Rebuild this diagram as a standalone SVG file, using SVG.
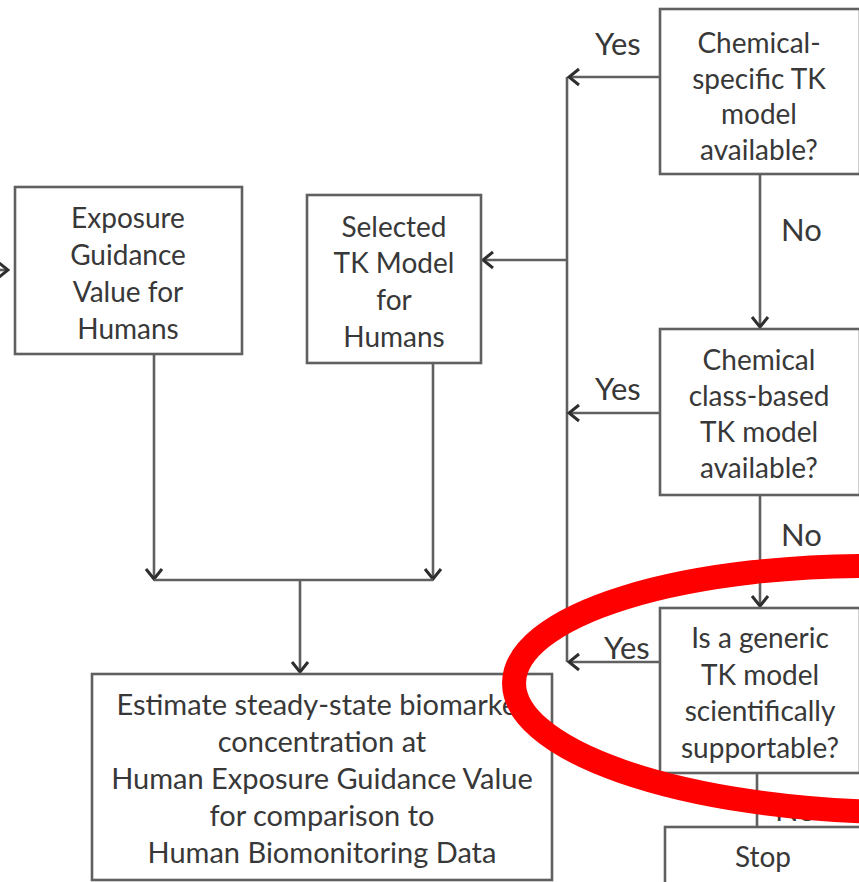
<svg xmlns="http://www.w3.org/2000/svg" width="859" height="882" viewBox="0 0 859 882">
  <style>
    .box { fill: #ffffff; stroke: #606060; stroke-width: 2.6; }
    .t { font-family: Lato, "Open Sans", "Liberation Sans", sans-serif; font-size: 28px; fill: #383838; text-anchor: middle; }
    .big { font-size: 29px; }
    .lbl { font-family: Lato, "Open Sans", "Liberation Sans", sans-serif; font-size: 31px; fill: #383838; }
    .conn { fill: none; stroke: #606060; stroke-width: 2.6; }
    .arr { marker-end: url(#chev); }
  </style>
  <defs>
    <marker id="chev" markerUnits="userSpaceOnUse" viewBox="-12 -10 14 20" refX="0" refY="0" markerWidth="14" markerHeight="20" orient="auto">
      <path d="M -10 -8 L 0 0 L -10 8" fill="none" stroke="#2e2e2e" stroke-width="3"/>
    </marker>
  </defs>
  <rect width="859" height="882" fill="#ffffff"/>

  <!-- connectors -->
  <g id="connectors">
    <path class="conn arr" d="M -20 270 L 8 270"/>
    <!-- Yes branches collect on the vertical trunk -->
    <path class="conn" d="M 567 77 L 567 662"/>
    <path class="conn arr" d="M 660 77 L 569 77"/>
    <path class="conn arr" d="M 660 413 L 569 413"/>
    <path class="conn arr" d="M 660 662 L 569 662"/>
    <path class="conn arr" d="M 567 260 L 483 260"/>
    <!-- No branches -->
    <path class="conn arr" d="M 760 174 L 760 327"/>
    <path class="conn arr" d="M 760 495 L 760 606"/>
    <path class="conn" d="M 757 773 L 757 827"/>
    <!-- merge into the estimate box -->
    <path class="conn arr" d="M 154 354 L 154 579"/>
    <path class="conn arr" d="M 433 363 L 433 579"/>
    <path class="conn" d="M 154 580 L 433 580"/>
    <path class="conn arr" d="M 300 580 L 300 672"/>
    <text class="lbl" x="595" y="55">Yes</text>
    <text class="lbl" x="595" y="400">Yes</text>
    <text class="lbl" x="604" y="659">Yes</text>
    <text class="lbl" x="781" y="241">No</text>
    <text class="lbl" x="781" y="546">No</text>
    <text class="lbl" x="775" y="821">No</text>
  </g>

  <g id="exposure-guidance">
    <rect class="box" x="15" y="187" width="227" height="167"/>
    <text class="t" x="128" y="228">Exposure</text>
    <text class="t" x="128" y="265">Guidance</text>
    <text class="t" x="128" y="302">Value for</text>
    <text class="t" x="128" y="339">Humans</text>
  </g>

  <g id="selected-tk-model">
    <rect class="box" x="307" y="195" width="174" height="168"/>
    <text class="t" x="394" y="237">Selected</text>
    <text class="t" x="394" y="273">TK Model</text>
    <text class="t" x="394" y="310">for</text>
    <text class="t" x="394" y="347">Humans</text>
  </g>

  <g id="chemical-specific">
    <rect class="box" x="660" y="9" width="200" height="165"/>
    <text class="t" x="759" y="53">Chemical-</text>
    <text class="t" x="759" y="89">specific TK</text>
    <text class="t" x="759" y="124">model</text>
    <text class="t" x="759" y="160">available?</text>
  </g>

  <g id="chemical-class">
    <rect class="box" x="660" y="329" width="200" height="166"/>
    <text class="t" x="759" y="370">Chemical</text>
    <text class="t" x="759" y="406">class-based</text>
    <text class="t" x="759" y="442">TK model</text>
    <text class="t" x="759" y="478">available?</text>
  </g>

  <g id="generic-tk">
    <rect class="box" x="660" y="608" width="200" height="165"/>
    <text class="t" x="760" y="648">Is a generic</text>
    <text class="t" x="760" y="685">TK model</text>
    <text class="t" x="760" y="721">scientifically</text>
    <text class="t" x="760" y="758">supportable?</text>
  </g>

  <g id="stop">
    <rect class="box" x="665" y="827" width="200" height="70"/>
    <text class="t" x="763" y="867">Stop</text>
  </g>

  <g id="estimate">
    <rect class="box" x="92" y="674" width="460" height="206"/>
    <text class="t big" x="322" y="715">Estimate steady-state biomarker</text>
    <text class="t big" x="322" y="752">concentration at</text>
    <text class="t big" x="322" y="789">Human Exposure Guidance Value</text>
    <text class="t big" x="322" y="826">for comparison to</text>
    <text class="t big" x="322" y="863">Human Biomonitoring Data</text>
  </g>

  <!-- red highlight ring -->
  <ellipse cx="888" cy="689" rx="374" ry="123" transform="rotate(1 888 689)" fill="none" stroke="#ff0000" stroke-width="24"/>
</svg>
